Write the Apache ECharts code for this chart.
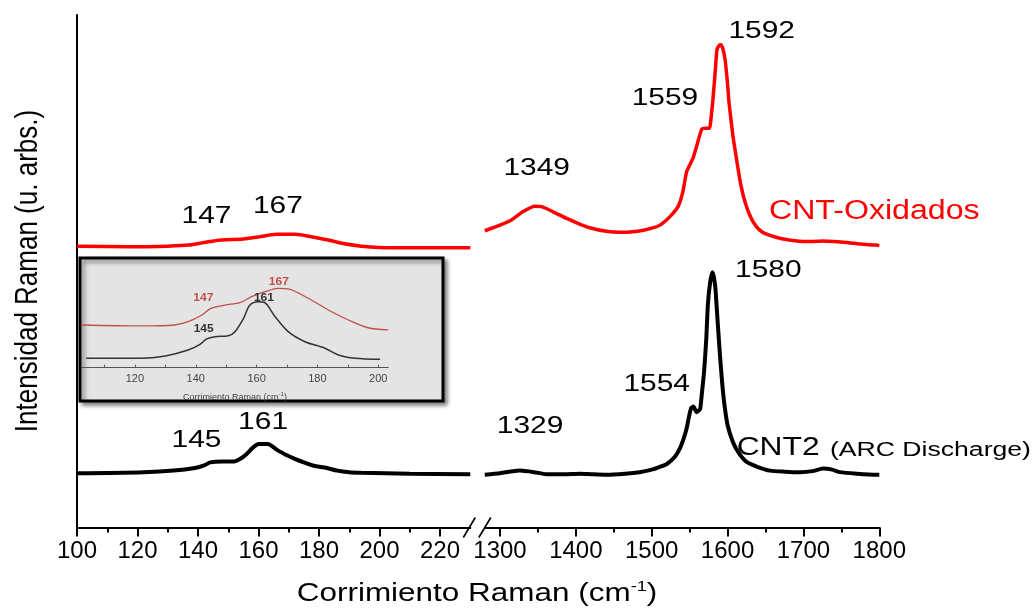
<!DOCTYPE html>
<html><head><meta charset="utf-8">
<script src="https://cdn.jsdelivr.net/npm/echarts@6/dist/echarts.min.js"></script>
<style>html,body{margin:0;padding:0;background:#fff}#c{width:1035px;height:609px}</style>
</head><body><div id="c"></div>
<script>
// ---------- tick values ----------
const lowTicks = [100, 120, 140, 160, 180, 200, 220];
const lowMinor = [110, 130, 150, 170, 190, 210];
const highTicks = [1300, 1400, 1500, 1600, 1700, 1800];
const highMinor = [1350, 1450, 1550, 1650, 1750];
const insetTicks = [120, 140, 160, 180, 200];
const insetMinor = [110, 130, 150, 170, 190];

// ---------- series values [Raman shift, intensity (arb.)] ----------
const oxLow = [[100,54.9],[117,54.8],[130,54.9],[137,55.1],[142,55.6],[147.5,56.1],[155,56.3],[160,56.7],[166,57.2],[172,57.2],[177,56.8],[183,56.1],[188,55.4],[194,54.9],[205,54.6],[215,54.6],[230,54.6]];
const oxHigh = [[1280,57.9],[1300,59.0],[1315,60.0],[1330,61.6],[1346,62.7],[1355,62.6],[1370,61.6],[1388,60.3],[1405,59.2],[1418,58.5],[1440,57.8],[1458,57.6],[1475,57.7],[1489,58.0],[1500,58.4],[1511,59.0],[1525,60.8],[1535,62.7],[1541,65.5],[1546,69.4],[1551,71.0],[1555,72.3],[1560,74.8],[1566,77.7],[1571,77.9],[1576,77.9],[1579,81.0],[1581,84.0],[1584,89.5],[1586,93.2],[1589,94.1],[1591,94.2],[1594,93.3],[1597,91.0],[1600,86.5],[1602,82.8],[1607,76.5],[1612,71.7],[1617,67.2],[1623,63.5],[1630,60.7],[1638,58.7],[1646,57.6],[1656,57.0],[1670,56.4],[1691,55.9],[1710,55.8],[1726,55.9],[1740,55.8],[1757,55.6],[1775,55.3],[1796,55.1],[1800,55.0]];
const arcLow = [[100,10.6],[122,10.8],[132,11.1],[139,11.6],[142,12.1],[144,12.7],[148,12.9],[152,12.9],[154,13.4],[156,14.3],[158,15.5],[160,16.3],[163,16.3],[166,15.2],[169,14.2],[172,13.4],[175,12.7],[178,12.1],[182.6,11.6],[186,11.1],[190,10.8],[194,10.7],[210,10.5],[230,10.4]];
const arcHigh = [[1280,10.3],[1300,10.6],[1326,11.1],[1345,10.8],[1361,10.4],[1385,10.4],[1405,10.5],[1420,10.4],[1440,10.3],[1465,10.5],[1484,10.8],[1500,11.3],[1510,11.8],[1520,12.4],[1530,13.7],[1537,15.4],[1542,17.3],[1546,19.3],[1549,21.5],[1552,23.3],[1555,23.6],[1559,22.5],[1562,22.8],[1564,23.2],[1566,26.0],[1569,30.3],[1572,37.0],[1574,43.4],[1577,47.8],[1580,49.8],[1582,48.8],[1584,46.6],[1587,40.0],[1590,33.6],[1593,28.0],[1596,23.8],[1600,20.0],[1607,16.7],[1615,14.5],[1625,12.8],[1640,11.8],[1656,11.1],[1675,10.9],[1695,10.8],[1712,11.0],[1726,11.5],[1738,11.3],[1748,10.8],[1770,10.5],[1796,10.3],[1800,10.3]];
const insetOx = [[102.5,40.4],[122,39.5],[133,40.4],[137.5,43.5],[142,49.9],[145,56.2],[149.6,59.3],[154.5,61.5],[158.4,67.2],[162.8,71.9],[167,75.1],[170.4,74.5],[177,65.7],[183.6,54.6],[190.2,45.1],[196.7,37.8],[203.3,35.7]];
const insetArc = [[104,8.9],[122,8.9],[130,11.1],[137.5,16.7],[141.4,22.1],[143.6,27.2],[146.3,29.3],[150.7,30.3],[152.9,34.1],[155.7,46.7],[157.8,59.3],[160.6,62.4],[162.5,61.9],[166.1,48.2],[170.4,34.1],[175.9,24.6],[182.5,18.4],[186.9,12.0],[192.4,8.9],[200.6,7.9]];

// ---------- peak annotations (anchor in data units of a grid) ----------
const peakTexts = ['147', '167', '145', '161', '1349', '1559', '1592', '1329', '1554', '1580'];
const peakGrid  = [0, 0, 0, 0, 1, 1, 1, 1, 1, 1];
const peakAnchor = [[142.8,60.6],[166.4,62.6],[139.5,17.0],[161.5,20.4],[1348.4,70.1],[1517.5,83.7],[1645,96.7],[1339.6,19.7],[1506.6,27.9],[1653.7,50.2]];
const insetTexts = ['147', '167', '161', '145'];
const insetAnchor = [[142.5,65.7],[167.3,80.8],[162.4,65.7],[142.6,36.6]];
const insetTextIsOx = [true, true, false, false];

const FONT = "'Liberation Sans', Arial, sans-serif";
const RED = '#ff0000';
const plain = function (v) { return String(v); };

function majorAxis(grid, min, max, ticks) {
  return {
    type: 'value', gridIndex: grid, min: min, max: max, position: 'bottom',
    axisLine: { onZero: false, lineStyle: { color: '#000', width: 2 } },
    axisTick: { show: true, customValues: ticks, length: 9, inside: false, lineStyle: { color: '#000', width: 2 } },
    axisLabel: { customValues: ticks, formatter: plain, fontFamily: FONT, fontSize: 24, color: '#000', margin: 12 },
    splitLine: { show: false }
  };
}
function minorAxis(grid, min, max, ticks) {
  return {
    type: 'value', gridIndex: grid, min: min, max: max, position: 'bottom',
    axisLine: { show: false, onZero: false },
    axisTick: { show: true, customValues: ticks, length: 5, lineStyle: { color: '#000', width: 2 } },
    axisLabel: { show: false }, splitLine: { show: false }
  };
}

const option = {
  backgroundColor: '#fff',
  animation: false,
  grid: [
    { left: 77, top: 15, width: 393.3, height: 512.5 },
    { left: 484.8, top: 15, width: 394.5, height: 512.5 },
    { left: 81.7, top: 262, width: 306.6, height: 105.7, z: 5 }
  ],
  xAxis: [
    majorAxis(0, 100, 230, lowTicks),
    majorAxis(1, 1280, 1800, highTicks),
    {
      type: 'value', gridIndex: 2, min: 102.5, max: 203.3, position: 'bottom', z: 5,
      axisLine: { onZero: false, lineStyle: { color: '#555', width: 1 } },
      axisTick: { show: true, customValues: insetTicks.concat(insetMinor), inside: true, length: 3, lineStyle: { color: '#555' } },
      axisLabel: { customValues: insetTicks, formatter: plain, fontFamily: FONT, fontSize: 11, color: '#444', margin: 6 },
      splitLine: { show: false },
      name: '{a|Corrimiento Raman (cm}{s|-1}{a|)}', nameLocation: 'middle', nameGap: 24,
      nameTextStyle: { rich: { a: { fontFamily: FONT, fontSize: 9, color: '#444', lineHeight: 12 }, s: { fontFamily: FONT, fontSize: 6, color: '#444', verticalAlign: 'top', lineHeight: 8 } } }
    },
    minorAxis(0, 100, 230, lowMinor),
    minorAxis(1, 1280, 1800, highMinor)
  ],
  yAxis: [
    { type: 'value', gridIndex: 0, min: 0, max: 100, axisLine: { show: true, lineStyle: { color: '#000', width: 2 } }, axisTick: { show: false }, axisLabel: { show: false }, splitLine: { show: false } },
    { type: 'value', gridIndex: 1, min: 0, max: 100, show: false },
    { type: 'value', gridIndex: 2, min: 0, max: 100, show: false }
  ],
  series: [
    { type: 'line', xAxisIndex: 0, yAxisIndex: 0, data: oxLow, showSymbol: false, smooth: 0.3, lineStyle: { color: RED, width: 3.5 }, z: 3 },
    { type: 'line', xAxisIndex: 1, yAxisIndex: 1, data: oxHigh, showSymbol: false, smooth: 0.2, lineStyle: { color: RED, width: 3.5 }, z: 3 },
    { type: 'line', xAxisIndex: 0, yAxisIndex: 0, data: arcLow, showSymbol: false, smooth: 0.3, lineStyle: { color: '#000', width: 4 }, z: 3 },
    { type: 'line', xAxisIndex: 1, yAxisIndex: 1, data: arcHigh, showSymbol: false, smooth: 0.2, lineStyle: { color: '#000', width: 4 }, z: 3 },
    { type: 'line', xAxisIndex: 2, yAxisIndex: 2, data: insetOx, showSymbol: false, smooth: 0.3, lineStyle: { color: '#c0504d', width: 1.3 }, z: 6 },
    { type: 'line', xAxisIndex: 2, yAxisIndex: 2, data: insetArc, showSymbol: false, smooth: 0.3, lineStyle: { color: '#333', width: 1.5 }, z: 6 }
  ],
  graphic: [
    { type: 'rect', z: 1, shape: { x: 80, y: 258, width: 363, height: 143 },
      style: { fill: '#e4e4e4', stroke: '#000', lineWidth: 3, shadowBlur: 4, shadowOffsetX: 3, shadowOffsetY: 3, shadowColor: 'rgba(0,0,0,0.45)' } }
  ]
};

const chart = echarts.init(document.getElementById('c'), null, { renderer: 'canvas' });
chart.setOption(option);

const g = [];
// axis break marks
const leftEnd = chart.convertToPixel({ gridIndex: 0 }, [230, 0]);
const rightStart = chart.convertToPixel({ gridIndex: 1 }, [1280, 0]);
[[leftEnd[0] - 1, leftEnd[1]], [rightStart[0], rightStart[1]]].forEach(function (p) {
  g.push({ type: 'line', z: 10, shape: { x1: p[0] - 6, y1: p[1] + 10, x2: p[0] + 6, y2: p[1] - 10 }, style: { stroke: '#000', lineWidth: 1.6 } });
});
// peak labels
peakTexts.forEach(function (t, i) {
  const p = chart.convertToPixel({ gridIndex: peakGrid[i] }, peakAnchor[i]);
  g.push({ type: 'text', z: 10, x: p[0], y: p[1], scaleX: 1.3, style: { text: t, fontFamily: FONT, fontSize: 23, fill: '#000', align: 'center', verticalAlign: 'middle' } });
});
// inset labels
insetTexts.forEach(function (t, i) {
  const p = chart.convertToPixel({ gridIndex: 2 }, insetAnchor[i]);
  g.push({ type: 'text', z: 10, x: p[0], y: p[1], scaleX: 1.2, style: { text: t, fontFamily: FONT, fontSize: 10, fontWeight: 'bold', fill: insetTextIsOx[i] ? '#c0504d' : '#333', align: 'center', verticalAlign: 'middle' } });
});
// series names
const oxName = chart.convertToPixel({ gridIndex: 1 }, [1793.4, 61.6]);
g.push({ type: 'text', z: 10, x: oxName[0], y: oxName[1], scaleX: 1.19, style: { text: 'CNT-Oxidados', fontFamily: FONT, fontSize: 27, fill: RED, align: 'center', verticalAlign: 'middle' } });
const arcName = chart.convertToPixel({ gridIndex: 1 }, [1612, 15.5]);
g.push({ type: 'text', z: 10, x: arcName[0], y: arcName[1], scaleX: 1.27, style: { text: 'CNT2', fontFamily: FONT, fontSize: 25, fill: '#000', align: 'left', verticalAlign: 'middle' } });
const arcSub = chart.convertToPixel({ gridIndex: 1 }, [1734.9, 15.1]);
g.push({ type: 'text', z: 10, x: arcSub[0], y: arcSub[1], scaleX: 1.33, style: { text: '(ARC Discharge)', fontFamily: FONT, fontSize: 20, fill: '#000', align: 'left', verticalAlign: 'middle' } });
// axis titles
g.push({ type: 'text', z: 10, x: 28, y: 271, rotation: Math.PI / 2, scaleY: 1.2, style: { text: 'Intensidad Raman (u. arbs.)', fontFamily: FONT, fontSize: 26, fill: '#000', align: 'center', verticalAlign: 'middle' } });
g.push({ type: 'text', z: 10, x: 477, y: 594, scaleX: 1.21, style: {
  text: '{a|Corrimiento Raman (cm}{s|-1}{a|)}', align: 'center', verticalAlign: 'middle',
  rich: { a: { fontFamily: FONT, fontSize: 26, fill: '#000', lineHeight: 30 }, s: { fontFamily: FONT, fontSize: 15, fill: '#000', verticalAlign: 'top', lineHeight: 14 } } } });

chart.setOption({ graphic: option.graphic.concat(g) });
</script></body></html>
